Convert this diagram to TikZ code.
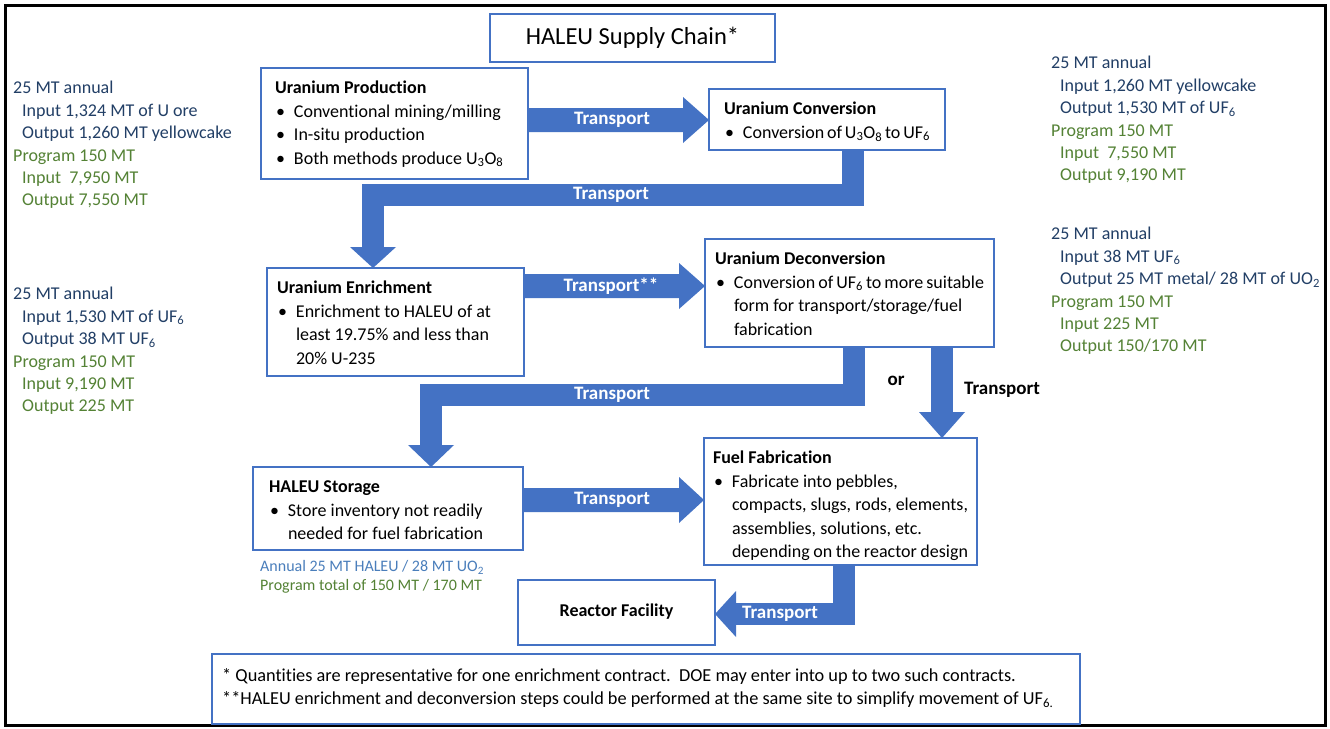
\documentclass[tikz,border=0pt]{standalone}
\usepackage{fontspec}
\setmainfont{Carlito}[Ligatures={NoCommon}]
\usetikzlibrary{calc}

\definecolor{boxblue}{HTML}{4472C4}
\definecolor{navytxt}{HTML}{223F66}
\definecolor{olivetxt}{HTML}{548235}
\definecolor{annualtxt}{HTML}{4A7EBB}

% top-aligned body of a process box: width, height, content
\newcommand\boxbody[3]{\parbox[c][#2pt][t]{#1pt}{\vspace*{9.6pt}\strut#3}}
% bullet line with hanging indent
\newcommand\bitem[1]{\par\hangindent=19pt\hangafter=1\noindent\hspace*{1pt}\makebox[18pt][l]{\textbullet}#1}
\newcommand\ind{\hspace*{9pt}}

\begin{document}
\begin{tikzpicture}[x=1pt,y=-1pt,
  box/.style={draw=boxblue, line width=1.8pt, fill=white, outer sep=0pt,
    inner ysep=0pt, anchor=north west, font=\fontsize{18}{23.4}\selectfont},
  band/.style={draw=boxblue, line width=22pt, line join=miter, line cap=butt},
  head/.style={fill=boxblue},
  lbl/.style={text=white, inner sep=0pt, font=\fontsize{19}{22}\selectfont\bfseries},
  side/.style={anchor=north west, align=left, inner sep=0pt,
    font=\fontsize{18}{22.4}\selectfont},
]
\useasboundingbox (0,0) rectangle (1330,728);
\fill[white] (0,0) rectangle (1330,728);
\draw[line width=3pt] (5,5) rectangle (1325,725);

% title
\node[box, inner xsep=0pt, minimum width=285pt, minimum height=48pt,
  font=\fontsize{24.5}{28}\selectfont] (title) at (490,14) {HALEU Supply Chain*};

% process boxes
\node[box, inner xsep=14pt] (prod) at (261,68) {\boxbody{239}{111}{%
  \textbf{Uranium Production}%
  \bitem{Conventional mining/milling}%
  \bitem{In-situ production}%
  \bitem{Both methods produce U\textsubscript{3}O\textsubscript{8}}}};

\node[box, inner xsep=15pt] (conv) at (709,89) {\boxbody{206}{61}{%
  \textbf{Uranium Conversion}%
  \bitem{Conversion of U\textsubscript{3}O\textsubscript{8} to UF\textsubscript{6}}}};

\node[box, inner xsep=10pt] (enr) at (267,268) {\boxbody{237}{108}{%
  \textbf{Uranium Enrichment}%
  \bitem{Enrichment to HALEU of at\\least 19.75\% and less than\\20\% U-235}}};

\node[box, inner xsep=10pt] (decon) at (705,239) {\boxbody{269}{108}{%
  \textbf{Uranium Deconversion}%
  \bitem{Conversion of UF\textsubscript{6} to more suitable\\form for transport/storage/fuel\\fabrication}}};

\node[box, inner xsep=16pt] (stor) at (253,467) {\boxbody{238}{83}{%
  \textbf{HALEU Storage}%
  \bitem{Store inventory not readily\\needed for fuel fabrication}}};

\node[box, inner xsep=9pt] (fuel) at (704,438) {\boxbody{255}{127}{%
  \textbf{Fuel Fabrication}%
  \bitem{Fabricate into pebbles,\\compacts, slugs, rods, elements,\\assemblies, solutions, etc.\\depending on the reactor design}}};

\node[box, inner xsep=0pt, minimum width=197pt, minimum height=65pt] (reac) at (518,580)
  {\raisebox{5pt}{\bfseries Reactor Facility}};

% block arrows
\fill[head] (prod.east |- 0,108) -- (683,108) -- (683,97) -- (conv.west |- 0,120)
  -- (683,143) -- (683,132) -- (prod.east |- 0,132) -- cycle;
\fill[head] (enr.east |- 0,274) -- (679,274) -- (679,263) -- (decon.west |- 0,286)
  -- (679,309) -- (679,298) -- (enr.east |- 0,298) -- cycle;
\fill[head] (stor.east |- 0,488) -- (679,488) -- (679,477) -- (fuel.west |- 0,500)
  -- (679,523) -- (679,512) -- (stor.east |- 0,512) -- cycle;

\draw[band] (conv.south -| 853,0) |- (373,195) -- (373,248);
\fill[head] (350,247) -- (396,247) -- (enr.north -| 373,0) -- cycle;

\draw[band] (decon.south -| 854,0) |- (431,395) -- (431,446);
\fill[head] (408,445) -- (454,445) -- (stor.north -| 431,0) -- cycle;

\draw[band] (decon.south -| 942,0) -- (942,413);
\fill[head] (919,412) -- (965,412) -- (fuel.north -| 942,0) -- cycle;

\draw[band] (fuel.south -| 844,0) |- (735,614);
\fill[head] (736,591) -- (736,637) -- (reac.east |- 0,614) -- cycle;

% arrow labels
\node[lbl] (t1) at (612,120) {Transport};
\node[lbl] (t2) at (611,195) {Transport};
\node[lbl] (t3) at (611,286) {Transport**};
\node[lbl] (t4) at (612,395) {Transport};
\node[lbl] (t5) at (612,500) {Transport};
\node[lbl] (t6) at (780,614) {Transport};
\node[lbl, text=black] (t7) at (1002,390) {Transport};
\node[lbl, text=black] (orlbl) at (896,381) {or};

% quantities
\node[side] (q1) at (13,78) {%
  \textcolor{navytxt}{\strut 25 MT annual}\\
  \textcolor{navytxt}{\ind Input 1,324 MT of U ore}\\
  \textcolor{navytxt}{\ind Output 1,260 MT yellowcake}\\
  \textcolor{olivetxt}{Program 150 MT}\\
  \textcolor{olivetxt}{\ind Input \ 7,950 MT}\\
  \textcolor{olivetxt}{\ind Output 7,550 MT}};

\node[side] (q2) at (1051,53) {%
  \textcolor{navytxt}{\strut 25 MT annual}\\
  \textcolor{navytxt}{\ind Input 1,260 MT yellowcake}\\
  \textcolor{navytxt}{\ind Output 1,530 MT of UF\textsubscript{6}}\\
  \textcolor{olivetxt}{Program 150 MT}\\
  \textcolor{olivetxt}{\ind Input \ 7,550 MT}\\
  \textcolor{olivetxt}{\ind Output 9,190 MT}};

\node[side] (q3) at (13,284) {%
  \textcolor{navytxt}{\strut 25 MT annual}\\
  \textcolor{navytxt}{\ind Input 1,530 MT of UF\textsubscript{6}}\\
  \textcolor{navytxt}{\ind Output 38 MT UF\textsubscript{6}}\\
  \textcolor{olivetxt}{Program 150 MT}\\
  \textcolor{olivetxt}{\ind Input 9,190 MT}\\
  \textcolor{olivetxt}{\ind Output 225 MT}};

\node[side] (q4) at (1051,224) {%
  \textcolor{navytxt}{\strut 25 MT annual}\\
  \textcolor{navytxt}{\ind Input 38 MT UF\textsubscript{6}}\\
  \textcolor{navytxt}{\ind Output 25 MT metal/ 28 MT of UO\textsubscript{2}}\\
  \textcolor{olivetxt}{Program 150 MT}\\
  \textcolor{olivetxt}{\ind Input 225 MT}\\
  \textcolor{olivetxt}{\ind Output 150/170 MT}};

\node[side, font=\fontsize{16}{19}\selectfont] (q5) at (260,558) {%
  \textcolor{annualtxt}{\strut Annual 25 MT HALEU / 28 MT UO\textsubscript{2}}\\
  \textcolor{olivetxt}{Program total of 150 MT / 170 MT}};

% footnotes
\node[box, minimum width=868pt, minimum height=70pt] (note) at (212,654) {};
\node[side, font=\fontsize{18.3}{23}\selectfont] (notetxt) at ($(note.north west)+(10,11)$) {%
  \strut * Quantities are representative for one enrichment contract.\ \ DOE may enter into up to two such contracts.\\
  **HALEU enrichment and deconversion steps could be performed at the same site to simplify movement of UF\textsubscript{6.}};
\end{tikzpicture}
\end{document}
